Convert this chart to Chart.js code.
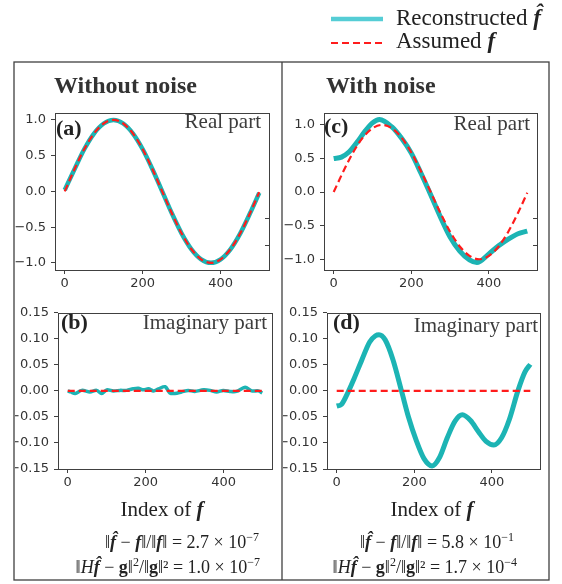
<!DOCTYPE html>
<html>
<head>
<meta charset="utf-8">
<script src="https://cdn.jsdelivr.net/npm/chart.js@4.4.1/dist/chart.umd.min.js"></script>
<style>
  body { margin: 0; background: #fff; }
  #fig { position: relative; width: 562px; height: 584px; overflow: hidden; }
  #fig canvas { position: absolute; }
  #ov { position: absolute; left: 0; top: 0; }
</style>
</head>
<body>
<div id="fig">
  <canvas id="pa" width="265" height="195" style="left:15px;top:100px;width:265px;height:195px"></canvas>
  <canvas id="pb" width="268" height="195" style="left:15px;top:300px;width:268px;height:195px"></canvas>
  <canvas id="pc" width="265" height="195" style="left:283px;top:100px;width:265px;height:195px"></canvas>
  <canvas id="pd" width="266" height="195" style="left:283px;top:300px;width:266px;height:195px"></canvas>
  <svg id="ov" width="562" height="584">
    <g fill="none" stroke="#404040" stroke-width="1.3">
      <rect x="14" y="62" width="535" height="518"/>
      <line x1="282" y1="62" x2="282" y2="580"/>
    </g>
    <line x1="331" y1="19" x2="383" y2="19" stroke="#55cdd5" stroke-width="4.5"/>
    <line x1="331" y1="43" x2="383" y2="43" stroke="#ff1c1c" stroke-width="2.2" stroke-dasharray="7 4"/>
    <g font-family="Liberation Serif, Times New Roman, serif" fill="#222">
      <text x="396" y="25" font-size="23">Reconstructed <tspan font-weight="bold" font-style="italic">f&#x302;</tspan></text>
      <text x="396" y="48" font-size="23">Assumed <tspan font-weight="bold" font-style="italic">f</tspan></text>

      <text x="54" y="93" font-size="24" font-weight="bold" fill="#333">Without noise</text>
      <text x="326" y="93" font-size="24" font-weight="bold" fill="#333">With noise</text>

      <text x="56" y="135" font-size="22" font-weight="bold">(a)</text>
      <text x="261" y="128" font-size="21" text-anchor="end" fill="#3c3c3c">Real part</text>
      <text x="324" y="133" font-size="22" font-weight="bold">(c)</text>
      <text x="530" y="130" font-size="21" text-anchor="end" fill="#3c3c3c">Real part</text>

      <text x="61" y="329" font-size="22" font-weight="bold">(b)</text>
      <text x="267" y="329" font-size="21" text-anchor="end" fill="#3c3c3c">Imaginary part</text>
      <text x="333" y="329" font-size="22" font-weight="bold">(d)</text>
      <text x="538" y="332" font-size="21" text-anchor="end" fill="#3c3c3c">Imaginary part</text>

      <text x="162" y="516" font-size="21" text-anchor="middle">Index of <tspan font-weight="bold" font-style="italic">f</tspan></text>
      <text x="432" y="516" font-size="21" text-anchor="middle">Index of <tspan font-weight="bold" font-style="italic">f</tspan></text>

      <text x="259" y="548" font-size="18" text-anchor="end">‖<tspan font-weight="bold" font-style="italic">f&#x302;</tspan> − <tspan font-weight="bold" font-style="italic">f</tspan>‖/‖<tspan font-weight="bold" font-style="italic">f</tspan>‖ = 2.7 × 10<tspan font-size="12" dy="-7">−7</tspan></text>
      <text x="260" y="573" font-size="18" text-anchor="end">‖<tspan font-style="italic">H</tspan><tspan font-weight="bold" font-style="italic">f&#x302;</tspan> − <tspan font-weight="bold">g</tspan>‖<tspan font-size="12" dy="-7">2</tspan><tspan dy="7">/‖</tspan><tspan font-weight="bold">g</tspan>‖² = 1.0 × 10<tspan font-size="12" dy="-7">−7</tspan></text>
      <text x="514" y="548" font-size="18" text-anchor="end">‖<tspan font-weight="bold" font-style="italic">f&#x302;</tspan> − <tspan font-weight="bold" font-style="italic">f</tspan>‖/‖<tspan font-weight="bold" font-style="italic">f</tspan>‖ = 5.8 × 10<tspan font-size="12" dy="-7">−1</tspan></text>
      <text x="517" y="573" font-size="18" text-anchor="end">‖<tspan font-style="italic">H</tspan><tspan font-weight="bold" font-style="italic">f&#x302;</tspan> − <tspan font-weight="bold">g</tspan>‖<tspan font-size="12" dy="-7">2</tspan><tspan dy="7">/‖</tspan><tspan font-weight="bold">g</tspan>‖² = 1.7 × 10<tspan font-size="12" dy="-7">−4</tspan></text>
    </g>
  </svg>
</div>
<script>
// sample index along f
const idx = [0, 25, 50, 75, 100, 125, 150, 175, 200, 225, 250, 275, 300, 325, 350, 375, 400, 425, 450, 475, 499];

// assumed f (real part) and reconstruction without noise
const assumedReal = [0.00, 0.31, 0.59, 0.81, 0.95, 1.00, 0.95, 0.81, 0.59, 0.31, 0.00, -0.31, -0.59, -0.81, -0.95, -1.00, -0.95, -0.81, -0.59, -0.31, -0.01];
const reconRealA = [0.02, 0.31, 0.59, 0.81, 0.95, 1.00, 0.95, 0.81, 0.59, 0.31, 0.00, -0.31, -0.59, -0.81, -0.95, -1.00, -0.95, -0.81, -0.59, -0.31, -0.02];

// reconstruction with noise, real part
const idxC = [0, 20, 40, 60, 80, 100, 118, 150, 175, 200, 225, 250, 275, 300, 325, 350, 369, 400, 425, 450, 475, 499];
const reconRealC = [0.50, 0.52, 0.60, 0.74, 0.90, 1.03, 1.08, 0.97, 0.80, 0.58, 0.28, -0.04, -0.37, -0.67, -0.88, -1.01, -1.05, -0.92, -0.80, -0.70, -0.62, -0.58];

// assumed f (imaginary part) is zero
const idxZero = [0, 499];
const assumedImag = [0, 0];

// imaginary part, without noise
const idxB = [0, 8, 19, 36, 57, 74, 87, 100, 117, 134, 151, 168, 181, 194, 207, 220, 233, 250, 262, 275, 292, 309, 326, 348, 365, 382, 399, 416, 433, 455, 472, 489, 499];
const reconImagB = [0.000, -0.002, -0.005, 0.001, -0.002, 0.001, -0.005, 0.002, 0.000, 0.001, 0.001, 0.004, 0.005, 0.002, 0.004, 0.000, 0.004, 0.008, -0.004, -0.005, -0.002, 0.001, -0.001, 0.002, 0.001, -0.002, 0.001, -0.001, -0.001, 0.007, 0.000, 0.000, -0.004];

// imaginary part, with noise
const idxD = [0, 12, 27, 45, 65, 85, 100, 109, 125, 145, 167, 185, 205, 225, 246, 265, 285, 305, 324, 345, 365, 385, 405, 425, 445, 467, 485, 499];
const reconImagD = [-0.029, -0.026, -0.006, 0.024, 0.060, 0.094, 0.106, 0.108, 0.098, 0.060, 0.000, -0.050, -0.095, -0.130, -0.144, -0.128, -0.090, -0.058, -0.046, -0.057, -0.078, -0.097, -0.104, -0.090, -0.055, 0.000, 0.036, 0.051];

const xTicks = [0, 200, 400];
const realTicks = [-1, -0.5, 0, 0.5, 1];
const imagTicks = [-0.15, -0.10, -0.05, 0, 0.05, 0.10, 0.15];

const CYAN = '#1cb4b4';
const RED = '#ff1c1c';
const AXIS = '#404040';
const tickFont = {family: 'DejaVu Sans', size: 13};

function pts(xs, ys) {
  return xs.map((x, i) => ({x: x, y: ys[i]}));
}

function fmt(v, d) {
  return (v < 0 ? '\u2212' : '') + Math.abs(v).toFixed(d);
}

// matplotlib style box around the plot area, plus two stray marks on the right
const framePlugin = {
  id: 'frame',
  afterDraw(chart, args, opts) {
    const a = chart.chartArea;
    const ctx = chart.ctx;
    ctx.save();
    ctx.strokeStyle = AXIS;
    ctx.lineWidth = 1;
    ctx.strokeRect(Math.round(a.left) + 0.5, Math.round(a.top) + 0.5, Math.round(a.width), Math.round(a.height));
    if (opts.stray) {
      const h = a.bottom - a.top;
      [0.668, 0.838].forEach(f => {
        const y = Math.round(a.top + f * h) + 0.5;
        ctx.beginPath();
        ctx.moveTo(a.right - 4, y);
        ctx.lineTo(a.right, y);
        ctx.stroke();
      });
    }
    ctx.restore();
  }
};

function panel(id, o) {
  return new Chart(document.getElementById(id), {
    type: 'line',
    data: {datasets: o.datasets},
    plugins: [framePlugin],
    options: {
      responsive: false,
      animation: false,
      layout: {padding: {top: o.padTop, right: o.padRight, left: 0, bottom: 0}},
      elements: {point: {radius: 0}},
      plugins: {legend: {display: false}, tooltip: {enabled: false}, frame: {stray: o.stray}},
      scales: {
        x: {
          type: 'linear',
          min: -25,
          max: 524,
          afterBuildTicks: s => { s.ticks = xTicks.map(v => ({value: v})); },
          afterFit: s => { s.height = o.xH; },
          border: {display: false},
          grid: {drawOnChartArea: false, drawTicks: true, tickLength: 4, color: AXIS},
          ticks: {font: tickFont, color: '#333', padding: 2, maxRotation: 0, callback: v => String(v)}
        },
        y: {
          type: 'linear',
          min: o.yMin,
          max: o.yMax,
          afterBuildTicks: s => { s.ticks = o.yTicks.map(v => ({value: v})); },
          afterFit: s => { s.width = o.yW; },
          border: {display: false},
          grid: {drawOnChartArea: false, drawTicks: true, tickLength: 4, color: AXIS},
          ticks: {font: tickFont, color: '#333', padding: 5, callback: v => fmt(v, o.digits)}
        }
      }
    }
  });
}

function redLine(xs, ys) {
  return {data: pts(xs, ys), borderColor: RED, borderWidth: 2.2, borderDash: [7, 4], order: 0, cubicInterpolationMode: 'monotone'};
}
function cyanLine(xs, ys, w, smooth) {
  const d = {data: pts(xs, ys), borderColor: CYAN, borderWidth: w, order: 1};
  if (smooth) d.cubicInterpolationMode = 'monotone'; else d.tension = 0.3;
  return d;
}

panel('pa', {
  padTop: 10, padRight: 11, yW: 40, xH: 25, yMin: -1.1, yMax: 1.1, yTicks: realTicks, digits: 1, stray: true,
  datasets: [redLine(idx, assumedReal), cyanLine(idx, reconRealA, 4.5, true)]
});
panel('pb', {
  padTop: 10, padRight: 11, yW: 43, xH: 26, yMin: -0.15, yMax: 0.15, yTicks: imagTicks, digits: 2, stray: false,
  datasets: [redLine(idxZero, assumedImag), cyanLine(idxB, reconImagB, 3.5, false)]
});
panel('pc', {
  padTop: 11, padRight: 11, yW: 41, xH: 25, yMin: -1.16, yMax: 1.18, yTicks: realTicks, digits: 1, stray: true,
  datasets: [redLine(idx, assumedReal), cyanLine(idxC, reconRealC, 5, true)]
});
panel('pd', {
  padTop: 11, padRight: 9, yW: 44, xH: 26, yMin: -0.15, yMax: 0.15, yTicks: imagTicks, digits: 2, stray: false,
  datasets: [redLine(idxZero, assumedImag), cyanLine(idxD, reconImagD, 5, true)]
});
</script>
</body>
</html>
